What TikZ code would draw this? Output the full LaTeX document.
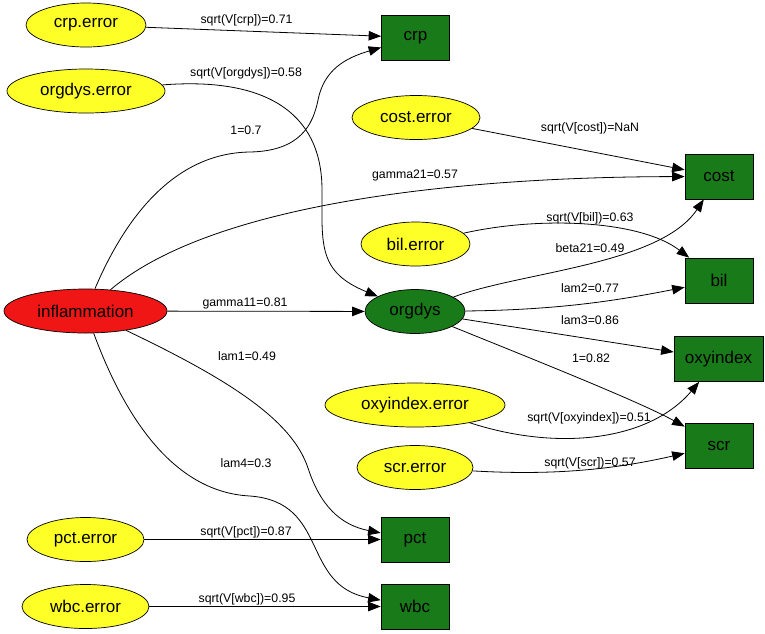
\documentclass[tikz,border=0pt]{standalone}
\usepackage{fontspec}
\setmainfont{Liberation Sans}
\usetikzlibrary{arrows.meta,shapes.geometric}
\definecolor{errY}{RGB}{255,255,40}
\definecolor{boxG}{RGB}{24,122,24}
\definecolor{latR}{RGB}{240,22,22}
\begin{document}
\begin{tikzpicture}[x=1pt,y=-1pt,
  nodefont/.style={font=\fontsize{17}{20}\selectfont},
  errnode/.style={ellipse, draw, fill=errY, line width=0.7pt, inner sep=0pt, minimum height=44pt, nodefont},
  obsnode/.style={rectangle, draw, fill=boxG, line width=0.7pt, inner sep=0pt, minimum width=68pt, minimum height=45pt, nodefont},
  latnode/.style={ellipse, draw, line width=0.7pt, inner sep=0pt, minimum height=44pt, nodefont},
  lbl/.style={font=\fontsize{12.3}{14}\selectfont, inner sep=0pt},
  edge/.style={-{Triangle[length=12.5pt,width=9.5pt]}, line width=0.8pt}]
\useasboundingbox (0,0) rectangle (765,633);

% latent nodes
\node[latnode, fill=latR, minimum width=163pt] (infl) at (85.5,311) {inflammation};
\node[latnode, fill=boxG, minimum width=100pt] (orgdys) at (415,311.5) {orgdys};

% observed boxes
\node[obsnode] (crp) at (415.5,37.5) {crp};
\node[obsnode] (cost) at (719,176.5) {cost};
\node[obsnode] (bil) at (719,280.5) {bil};
\node[obsnode, minimum width=89pt] (oxy) at (718.5,359) {oxyindex};
\node[obsnode] (scr) at (719,445.5) {scr};
\node[obsnode] (pct) at (415,539.5) {pct};
\node[obsnode] (wbc) at (415,606.5) {wbc};

% error nodes
\node[errnode, minimum width=120pt] (crpE) at (86,25) {crp.error};
\node[errnode, minimum width=158pt] (orgE) at (86,91) {orgdys.error};
\node[errnode, minimum width=128pt] (costE) at (416,117.5) {cost.error};
\node[errnode, minimum width=109pt] (bilE) at (415.5,244) {bil.error};
\node[errnode, minimum width=180pt] (oxyE) at (415,405) {oxyindex.error};
\node[errnode, minimum width=116pt] (scrE) at (415,467.5) {scr.error};
\node[errnode, minimum width=117pt] (pctE) at (85.5,539.5) {pct.error};
\node[errnode, minimum width=127pt] (wbcE) at (85.5,606.5) {wbc.error};

% edges
\draw[edge] (crpE) -- (crp);
\draw[edge] (orgE) .. controls (262,77) and (322,110) .. (322,190)
   .. controls (322,245) and (318,272) .. (orgdys);
\draw[edge] (infl) .. controls (122,225) and (170,153) .. (250,152)
   .. controls (300,151) and (313,125) .. (318,100)
   .. controls (324,70) and (345,58) .. (crp);
\draw[edge] (infl) .. controls (210,205) and (450,177) .. (cost);
\draw[edge] (infl) -- (orgdys);
\draw[edge] (infl) .. controls (230,380) and (292,420) .. (308,468)
   .. controls (320,505) and (340,525) .. (pct);
\draw[edge] (infl) .. controls (122,410) and (170,492) .. (250,496)
   .. controls (330,502) and (300,585) .. (wbc);
\draw[edge] (costE) -- (cost);
\draw[edge] (bilE) .. controls (540,216) and (640,220) .. (bil);
\draw[edge] (orgdys) .. controls (520,272) and (660,265) .. (cost);
\draw[edge] (orgdys) .. controls (560,310) and (620,300) .. (bil);
\draw[edge] (orgdys) -- (oxy);
\draw[edge] (orgdys) .. controls (540,362) and (640,402) .. (scr);
\draw[edge] (oxyE) .. controls (560,452) and (650,440) .. (oxy);
\draw[edge] (scrE) .. controls (560,476) and (620,468) .. (scr);
\draw[edge] (pctE) -- (pct);
\draw[edge] (wbcE) -- (wbc);

% labels
\node[lbl] (l1) at (246.5,20) {sqrt(V[crp])=0.71};
\node[lbl] (l2) at (246,73) {sqrt(V[orgdys])=0.58};
\node[lbl] (l3) at (246,130) {1=0.7};
\node[lbl] (l4) at (415,175) {gamma21=0.57};
\node[lbl] (l5) at (590,128) {sqrt(V[cost])=NaN};
\node[lbl] (l6) at (590,218) {sqrt(V[bil])=0.63};
\node[lbl] (l7) at (590,248) {beta21=0.49};
\node[lbl] (l8) at (590,288) {lam2=0.77};
\node[lbl] (l9) at (590,320) {lam3=0.86};
\node[lbl] (l10) at (591,358) {1=0.82};
\node[lbl] (l11) at (589,418) {sqrt(V[oxyindex])=0.51};
\node[lbl] (l12) at (590,463) {sqrt(V[scr])=0.57};
\node[lbl] (l13) at (245,303) {gamma11=0.81};
\node[lbl] (l14) at (247,356) {lam1=0.49};
\node[lbl] (l15) at (246,463) {lam4=0.3};
\node[lbl] (l16) at (246,532) {sqrt(V[pct])=0.87};
\node[lbl] (l17) at (247,599) {sqrt(V[wbc])=0.95};
\end{tikzpicture}
\end{document}
